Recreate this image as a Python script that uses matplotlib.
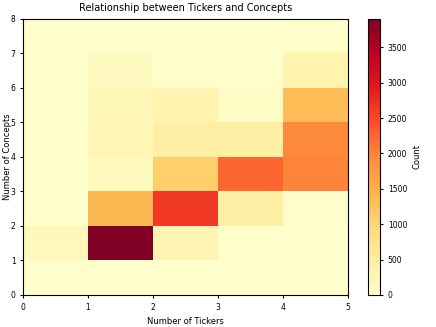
import numpy as np
import matplotlib
matplotlib.use("Agg")
import matplotlib.pyplot as plt

# bin edges
tickerEdges = [0, 1, 2, 3, 4, 5]
conceptEdges = [0, 1, 2, 3, 4, 5, 6, 7, 8]

# counts per cell, rows = concepts bin (0-1 .. 7-8), cols = tickers bin (0-1 .. 4-5)
counts_c0 = [0, 0, 0, 0, 0]
counts_c1 = [200, 3900, 300, 10, 10]
counts_c2 = [0, 1400, 2650, 430, 30]
counts_c3 = [0, 180, 1100, 2250, 2020]
counts_c4 = [0, 260, 440, 440, 1970]
counts_c5 = [0, 240, 320, 90, 1330]
counts_c6 = [0, 150, 30, 20, 350]
counts_c7 = [0, 5, 5, 5, 40]

rows = [counts_c0, counts_c1, counts_c2, counts_c3, counts_c4, counts_c5, counts_c6, counts_c7]

xs, ys, ws = [], [], []
for j, row in enumerate(rows):
    for i, c in enumerate(row):
        xs.append(tickerEdges[i] + 0.5)
        ys.append(conceptEdges[j] + 0.5)
        ws.append(c)

fig = plt.figure(figsize=(4.36, 3.27), dpi=100)
ax = fig.add_axes([0.053, 0.098, 0.745, 0.844])
cax = fig.add_axes([0.844, 0.098, 0.028, 0.844])

h = ax.hist2d(xs, ys, bins=[tickerEdges, conceptEdges], weights=ws, cmap="YlOrRd", vmin=0)
cb = fig.colorbar(h[3], cax=cax)
cb.set_label("Count", fontsize=6)
cb.ax.tick_params(labelsize=5.5, length=2)

ax.set_title("Relationship between Tickers and Concepts", fontsize=7)
ax.set_xlabel("Number of Tickers", fontsize=6)
ax.set_ylabel("Number of Concepts", fontsize=6)
ax.yaxis.set_label_coords(-0.035, 0.5)
ax.tick_params(labelsize=5.5, length=2)
ax.set_xticks(tickerEdges)
ax.set_yticks(conceptEdges)

fig.savefig("out.png", dpi=100)
